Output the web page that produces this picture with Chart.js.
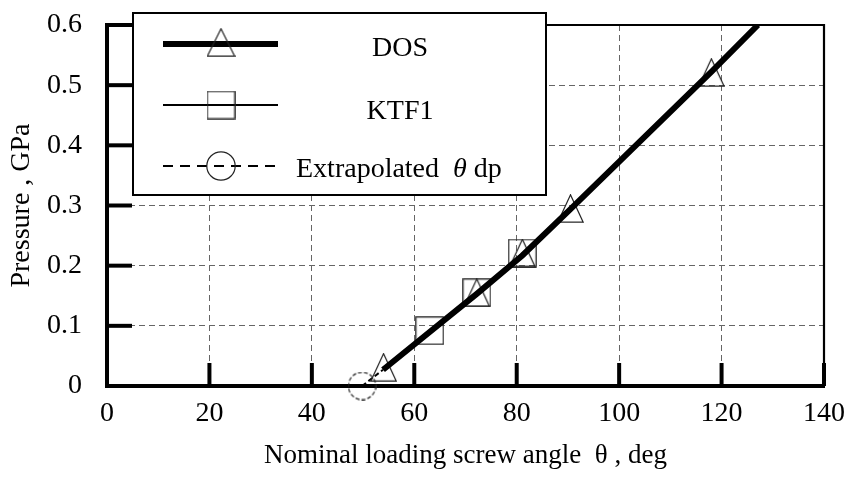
<!DOCTYPE html>
<html><head><meta charset="utf-8">
<script src="https://cdn.jsdelivr.net/npm/chart.js@4/dist/chart.umd.min.js"></script>
<style>html,body{margin:0;padding:0;background:#fff;} #wrap{width:849px;height:482px;position:relative;}</style>
</head><body><div id="wrap"><canvas id="c" width="849" height="482"></canvas></div>
<script>
// ---- data ----
const xTicks = [0, 20, 40, 60, 80, 100, 120, 140];
const yTicks = [0, 0.1, 0.2, 0.3, 0.4, 0.5, 0.6];
const dosAngle = [54, 72.2, 81.1, 90.5, 118];
const dosPressure = [0.031, 0.155, 0.221, 0.295, 0.521];
const dosFitAngle = [53.9, 72.2, 81.1, 90.5, 118, 127.1];
const dosFitPressure = [0.027, 0.153, 0.217, 0.294, 0.522, 0.6];
const ktfAngle = [63, 72.2, 81.1];
const ktfPressure = [0.092, 0.155, 0.221];
const extrapAngle = [49.8, 53.9];
const extrapPressure = [0, 0.027];
const seriesNames = ['DOS', 'KTF1', 'Extrapolated'];
const xTitle = 'Nominal loading screw angle  θ , deg';
const yTitle = 'Pressure , GPa';

const FONT = '"Liberation Serif", "Times New Roman", serif';
const pts = (xs, ys) => xs.map((x, i) => ({x: x, y: ys[i]}));

function makeMarker(kind, w, h, dash) {
  const c = document.createElement('canvas');
  c.width = w; c.height = h;
  const g = c.getContext('2d');
  g.strokeStyle = '#222'; g.lineWidth = 1.2;
  if (dash) g.setLineDash(dash);
  g.beginPath();
  if (kind === 'tri') { g.moveTo(w / 2, 0.8); g.lineTo(w - 0.8, h - 0.8); g.lineTo(0.8, h - 0.8); g.closePath(); }
  else if (kind === 'sq') { g.rect(0.8, 0.8, w - 1.6, h - 1.6); }
  else { g.arc(w / 2, h / 2, w / 2 - 0.8, 0, Math.PI * 2); }
  g.stroke();
  return c;
}
const triImg = makeMarker('tri', 27, 29);
const sqImg = makeMarker('sq', 29, 29);
const circImg = makeMarker('circ', 29, 29, [4, 2]);
const triLeg = makeMarker('tri', 29, 29);
const circLeg = makeMarker('circ', 30, 30);

const framePlugin = {
  id: 'frame',
  afterDatasetsDraw(chart) {
    const {ctx, chartArea: a, scales: {x, y}} = chart;
    ctx.save();
    ctx.strokeStyle = '#000';
    ctx.lineWidth = 2.2;
    ctx.beginPath();
    ctx.moveTo(a.left, a.top); ctx.lineTo(a.right, a.top); ctx.lineTo(a.right, a.bottom);
    ctx.stroke();
    ctx.lineWidth = 4;
    ctx.lineCap = 'butt';
    yTicks.forEach(v => { if (v === 0) return; const py = y.getPixelForValue(v);
      ctx.beginPath(); ctx.moveTo(a.left, py); ctx.lineTo(a.left + 25, py); ctx.stroke(); });
    xTicks.forEach(v => { if (v === 0) return; const px = x.getPixelForValue(v);
      ctx.beginPath(); ctx.moveTo(px, a.bottom); ctx.lineTo(px, a.bottom - 23); ctx.stroke(); });
    ctx.restore();
  },
  afterDraw(chart) {
    const {ctx, chartArea: a} = chart;
    const L = a.left + 26, T = a.top - 12, W = 413, H = 182;
    ctx.save();
    ctx.fillStyle = '#fff';
    ctx.fillRect(L, T, W, H);
    ctx.strokeStyle = '#000'; ctx.lineWidth = 2;
    ctx.strokeRect(L, T, W, H);
    const x1 = L + 30, x2 = L + 145, mx = L + 88;
    const rows = [T + 31, T + 92, T + 153];
    // DOS
    ctx.lineWidth = 6; ctx.beginPath(); ctx.moveTo(x1, rows[0]); ctx.lineTo(x2, rows[0]); ctx.stroke();
    ctx.drawImage(triLeg, mx - 14.5, rows[0] - 16);
    // KTF1
    ctx.lineWidth = 2; ctx.beginPath(); ctx.moveTo(x1, rows[1]); ctx.lineTo(x2, rows[1]); ctx.stroke();
    ctx.drawImage(sqImg, mx - 14.5, rows[1] - 14.5);
    // Extrapolated
    ctx.setLineDash([10, 7]); ctx.beginPath(); ctx.moveTo(x1, rows[2]); ctx.lineTo(x2, rows[2]); ctx.stroke();
    ctx.setLineDash([]);
    ctx.drawImage(circLeg, mx - 15, rows[2] - 15);
    // texts
    ctx.fillStyle = '#000';
    ctx.textBaseline = 'middle';
    ctx.font = '28px ' + FONT;
    const cx = L + 267;
    ctx.textAlign = 'center';
    ctx.fillText(seriesNames[0], cx, rows[0] + 5);
    ctx.fillText(seriesNames[1], cx, rows[1] + 7);
    ctx.textAlign = 'left';
    let tx = L + 163;
    const t1 = seriesNames[2] + '  ';
    ctx.fillText(t1, tx, rows[2] + 4);
    tx += ctx.measureText(t1).width;
    ctx.font = 'italic 28px ' + FONT;
    ctx.fillText('θ', tx, rows[2] + 4);
    tx += ctx.measureText('θ').width;
    ctx.font = '28px ' + FONT;
    ctx.fillText(' dp', tx, rows[2] + 4);
    ctx.restore();
  }
};

new Chart(document.getElementById('c'), {
  type: 'scatter',
  data: {
    datasets: [
      { label: 'DOS fit', data: pts(dosFitAngle, dosFitPressure), showLine: true,
        borderColor: '#000', borderWidth: 6, pointRadius: 0, borderCapStyle: 'butt', tension: 0 },
      { label: seriesNames[0], data: pts(dosAngle, dosPressure), showLine: false,
        pointStyle: triImg, pointRadius: 14, clip: false },
      { label: seriesNames[1], data: pts(ktfAngle, ktfPressure), showLine: true,
        borderColor: '#000', borderWidth: 1.5, pointStyle: sqImg, pointRadius: 14, clip: false },
      { label: seriesNames[2], data: pts(extrapAngle, extrapPressure), showLine: true,
        borderColor: '#000', borderWidth: 2, borderDash: [5, 3], pointStyle: circImg,
        pointRadius: [14, 0], clip: false }
    ]
  },
  options: {
    responsive: false, animation: false, devicePixelRatio: 1,
    layout: { padding: { top: 25, right: 25, left: 0, bottom: 0 } },
    plugins: { legend: { display: false }, tooltip: { enabled: false } },
    scales: {
      x: {
        type: 'linear', min: 0, max: 140,
        afterBuildTicks: s => { s.ticks = xTicks.map(v => ({value: v})); },
        afterFit: s => { s.height = 96; s.paddingLeft = 0; s.paddingRight = 0; },
        ticks: { color: '#000', padding: 11, maxRotation: 0, font: { family: FONT, size: 28 } },
        grid: { drawTicks: false, lineWidth: 1,
          color: c => (c.tick && (c.tick.value === 0 || c.tick.value === 140)) ? 'rgba(0,0,0,0)' : '#666' },
        border: { display: true, color: '#000', width: 4, dash: [6, 4] },
        title: { display: true, text: xTitle, color: '#000', padding: { top: 0, bottom: 10 },
          font: { family: FONT, size: 27 } }
      },
      y: {
        type: 'linear', min: 0, max: 0.6,
        afterBuildTicks: s => { s.ticks = yTicks.map(v => ({value: v})); },
        afterFit: s => { s.width = 107; s.paddingTop = 0; s.paddingBottom = 0; },
        ticks: { color: '#000', padding: 25, font: { family: FONT, size: 28 },
          callback: v => (v === 0 ? '0' : v.toFixed(1)) },
        grid: { drawTicks: false, lineWidth: 1,
          color: c => (c.tick && (c.tick.value === 0 || c.tick.value === 0.6)) ? 'rgba(0,0,0,0)' : '#666' },
        border: { display: true, color: '#000', width: 4, dash: [6, 4] },
        title: { display: true, text: yTitle, color: '#000', padding: { top: 5, bottom: 0 },
          font: { family: FONT, size: 28 } }
      }
    }
  },
  plugins: [framePlugin]
});
</script>
</body></html>
